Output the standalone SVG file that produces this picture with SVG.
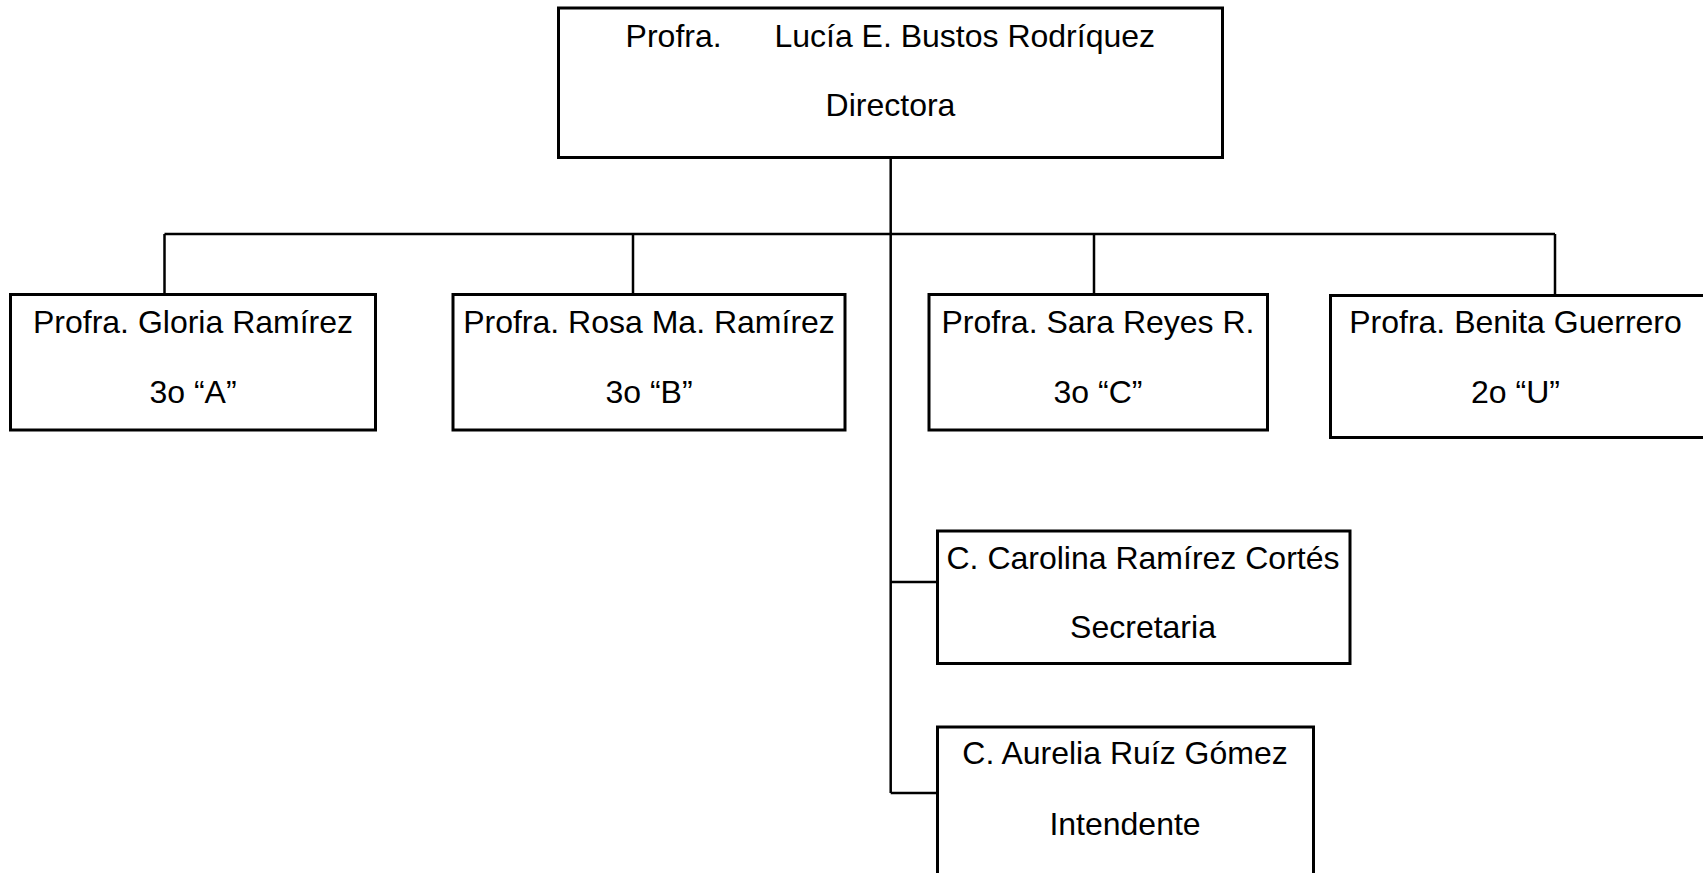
<svg xmlns="http://www.w3.org/2000/svg" width="1703" height="873" viewBox="0 0 1703 873">
<style>
.box{fill:#fff;stroke:#000;stroke-width:3}
.ln{fill:none;stroke:#000;stroke-width:2.5}
text{font-family:"Liberation Sans",Arial,sans-serif;font-size:32px;fill:#000}
.c{text-anchor:middle}
</style>
<rect width="1703" height="873" fill="#fff"/>
<g id="connectors">
<path class="ln" d="M890.7 157V793"/>
<path class="ln" d="M164.5 234H1555"/>
<path class="ln" d="M164.5 234V294M633 234V294M1094 234V294M1555 234V295"/>
<path class="ln" d="M890.7 582H937M890.7 793H937"/>
</g>
<g id="directora">
<rect class="box" x="558.5" y="8" width="664" height="149.5"/>
<text x="625.6" y="47">Profra.</text>
<text x="774.4" y="47">Lucía E. Bustos Rodríquez</text>
<text class="c" x="890.5" y="116">Directora</text>
</g>
<g id="gloria">
<rect class="box" x="10.5" y="294.5" width="365" height="135.5"/>
<text class="c" x="193" y="333">Profra. Gloria Ramírez</text>
<text class="c" x="193" y="403">3o “A”</text>
</g>
<g id="rosa">
<rect class="box" x="453" y="294.5" width="392" height="135.5"/>
<text class="c" x="649" y="333">Profra. Rosa Ma. Ramírez</text>
<text class="c" x="649" y="403">3o “B”</text>
</g>
<g id="sara">
<rect class="box" x="929" y="294.5" width="338.5" height="135.5"/>
<text class="c" x="1098" y="333">Profra. Sara Reyes R.</text>
<text class="c" x="1098" y="403">3o “C”</text>
</g>
<g id="benita">
<rect class="box" x="1330.5" y="295.5" width="380" height="142"/>
<text class="c" x="1515.5" y="333">Profra. Benita Guerrero</text>
<text class="c" x="1515.5" y="403">2o “U”</text>
</g>
<g id="carolina">
<rect class="box" x="937.5" y="531" width="412.5" height="132.5"/>
<text class="c" x="1143" y="569">C. Carolina Ramírez Cortés</text>
<text class="c" x="1143" y="638">Secretaria</text>
</g>
<g id="aurelia">
<rect class="box" x="937.5" y="727" width="376" height="160"/>
<text class="c" x="1125" y="764">C. Aurelia Ruíz Gómez</text>
<text class="c" x="1125" y="835">Intendente</text>
</g>
</svg>
